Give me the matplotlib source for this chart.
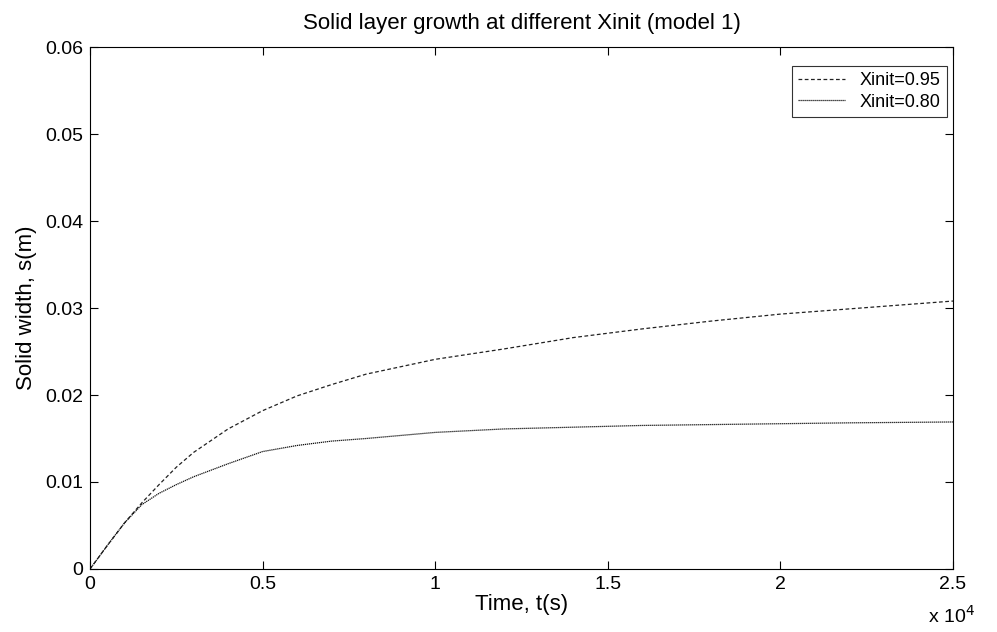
import numpy as np
import matplotlib.pyplot as plt

plt.rcParams['font.family'] = ['Liberation Sans', 'DejaVu Sans']

# time in units of 1e4 s
t = [0, 0.05, 0.1, 0.15, 0.2, 0.25, 0.3, 0.4, 0.5, 0.6, 0.7, 0.8,
     1.0, 1.2, 1.4, 1.6, 1.8, 2.0, 2.2, 2.5]
s_095 = [0, 0.0027, 0.0053, 0.0076, 0.0097, 0.0117, 0.0134, 0.0161, 0.0182,
         0.0199, 0.0212, 0.0224, 0.0241, 0.0253, 0.0266, 0.0276, 0.0285,
         0.0293, 0.0299, 0.0308]
s_080 = [0, 0.0027, 0.0053, 0.0074, 0.0087, 0.0097, 0.0106, 0.0121, 0.0135,
         0.0142, 0.0147, 0.0150, 0.0157, 0.0161, 0.0163, 0.0165, 0.0166,
         0.0167, 0.0168, 0.0169]

fig = plt.figure(figsize=(9.97, 6.32), dpi=100)
ax = fig.add_axes([0.0903, 0.0997, 0.8656, 0.8259])

ax.plot(t, s_095, color="#222222", linestyle=(0, (3, 2)), linewidth=0.9, label="Xinit=0.95")
ax.plot(t, s_080, color="#111111", linestyle=(0, (1, 0.6)), linewidth=0.9, label="Xinit=0.80")

ax.set_xlim(0, 2.5)
ax.set_ylim(0, 0.06)
ax.set_xticks([0, 0.5, 1, 1.5, 2, 2.5])
ax.set_xticklabels(["0", "0.5", "1", "1.5", "2", "2.5"])
ax.set_yticks([0, 0.01, 0.02, 0.03, 0.04, 0.05, 0.06])
ax.set_yticklabels(["0", "0.01", "0.02", "0.03", "0.04", "0.05", "0.06"])
ax.tick_params(direction="in", top=True, right=True, labelsize=14, length=6, width=0.8)
ax.tick_params(axis="y", pad=5)
ax.tick_params(axis="x", pad=5)
for sp in ax.spines.values():
    sp.set_linewidth(0.8)

ax.set_title("Solid layer growth at different Xinit (model 1)", fontsize=16, pad=13)
ax.set_xlabel("Time, t(s)", fontsize=16, labelpad=1)
ax.set_ylabel("Solid width, s(m)", fontsize=16, labelpad=6)
fig.text(0.978, 0.008, r"x 10$^{4}$", ha="right", va="bottom", fontsize=14)

leg = ax.legend(loc="upper right", bbox_to_anchor=(0.993, 0.964), borderaxespad=0,
                fontsize=13, frameon=True, fancybox=False, edgecolor="black",
                handlelength=2.6, borderpad=0.35, labelspacing=0.25, handletextpad=0.8)
leg.get_frame().set_linewidth(0.8)

fig.savefig("out.png", dpi=100)
